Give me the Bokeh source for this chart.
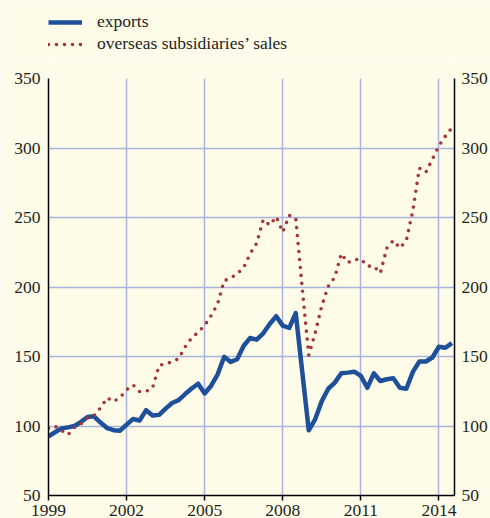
from bokeh.plotting import figure
from bokeh.layouts import column
from bokeh.models import LinearAxis, FixedTicker, Legend, LegendItem, Range1d
from bokeh.embed import file_html
from bokeh.resources import INLINE

# ---- data (quarterly, 1999 Q1 .. 2014 Q3) ----
start_year = 1999
exports = [92.5, 95.5, 98.3, 99.0, 100.0, 103.0, 106.5, 107.0, 102.5, 98.5,
           97.0, 96.6, 101.0, 105.0, 104.0, 111.4, 107.5, 108.0, 112.5, 116.5,
           118.6, 123.0, 127.0, 130.4, 123.4, 129.0, 137.2, 149.8, 146.1, 148.0,
           157.7, 163.3, 162.1, 166.7, 173.4, 179.0, 172.2, 170.5, 181.2, 139.0,
           96.9, 105.0, 117.9, 126.8, 131.2, 137.9, 138.4, 139.1, 136.0, 127.5,
           137.9, 132.4, 133.6, 134.3, 127.5, 126.8, 138.9, 146.4, 146.4, 149.3,
           157.0, 156.3, 159.6]
overseas = [98.3, 99.8, 96.8, 93.7, 99.0, 101.5, 106.0, 107.5, 113.0, 120.3,
            117.6, 120.5, 126.0, 129.5, 124.8, 124.8, 127.5, 143.5, 145.0, 146.0,
            148.5, 157.0, 163.3, 167.4, 172.3, 179.5, 188.0, 204.5, 206.5, 209.5,
            214.0, 224.0, 231.5, 248.5, 244.5, 250.5, 239.5, 251.5, 249.5, 199.0,
            151.0, 167.0, 186.5, 200.5, 207.0, 224.0, 217.5, 219.5, 220.3, 215.0,
            215.0, 210.0, 228.0, 233.5, 228.0, 233.5, 255.0, 285.5, 282.5, 292.0,
            301.5, 308.5, 314.5]
quarters = [start_year + i / 4 for i in range(len(exports))]

x_ticks = [1999, 2002, 2005, 2008, 2011, 2014]
y_ticks = [50, 100, 150, 200, 250, 300, 350]
series_labels = ["exports", "overseas subsidiaries\u2019 sales"]

BG = "#fefce8"
GRID = "#a9b3de"
TXT = "#231f20"
FONT = "Liberation Serif"
FS = "17.5px"
BLUE = dict(line_color="#1d4f9a", line_width=4.5, line_join="round")
RED = dict(line_color="#a53636", line_width=3.6, line_dash="0 8",
           line_cap="round")

W = 490
LEG_H = 60
MAIN_H = 458

# ---- legend strip (series drawn off-range; only the legend shows) ----
pl = figure(width=W, height=LEG_H, output_backend="svg", toolbar_location=None,
            x_range=Range1d(0, 1), y_range=Range1d(0, 1),
            x_axis_type=None, y_axis_type=None,
            min_border_left=41, min_border_right=0, min_border_top=11,
            min_border_bottom=0)
pl.background_fill_color = BG
pl.border_fill_color = BG
pl.outline_line_color = None
pl.grid.visible = False
l1 = pl.line(quarters, exports, **BLUE)
l2 = pl.line(quarters, overseas, **RED)
legend = Legend(items=[LegendItem(label=series_labels[0], renderers=[l1]),
                       LegendItem(label=series_labels[1], renderers=[l2])],
                location="top_left", orientation="vertical",
                glyph_width=34, glyph_height=20, label_height=20, spacing=1,
                label_standoff=15, padding=3, margin=0,
                border_line_color=None, background_fill_alpha=0,
                label_text_font=FONT, label_text_font_size=FS,
                label_text_color=TXT)
pl.add_layout(legend, "center")

# ---- main chart ----
p = figure(width=W, height=MAIN_H, output_backend="svg", toolbar_location=None,
           x_range=Range1d(1999, 2014.6), y_range=Range1d(50, 350),
           min_border_left=48, min_border_right=8, min_border_top=78 - LEG_H,
           min_border_bottom=8)
p.background_fill_color = BG
p.border_fill_color = BG
p.outline_line_color = None

p.line(quarters, exports, **BLUE)
p.line(quarters, overseas, **RED)

p.xgrid.ticker = FixedTicker(ticks=x_ticks)
p.ygrid.ticker = FixedTicker(ticks=y_ticks)
for g in (p.xgrid, p.ygrid):
    g.grid_line_color = GRID
    g.grid_line_width = 1.5

right = LinearAxis()
p.add_layout(right, "right")
for ax in (p.yaxis[0], right):
    ax.ticker = FixedTicker(ticks=y_ticks)
    ax.major_tick_out = 0
    ax.major_tick_in = 0
    ax.minor_tick_out = 0
    ax.minor_tick_in = 0
    ax.major_label_standoff = 8
    ax.axis_line_color = "black"
    ax.axis_line_width = 1.5
    ax.major_label_text_font = FONT
    ax.major_label_text_font_size = FS
    ax.major_label_text_color = TXT
right.major_label_standoff = 7

xa = p.xaxis[0]
xa.ticker = FixedTicker(ticks=x_ticks)
xa.major_tick_out = 5
xa.major_tick_in = 0
xa.minor_tick_out = 0
xa.minor_tick_in = 0
xa.major_tick_line_color = "black"
xa.major_tick_line_width = 1.5
xa.major_label_standoff = 4
xa.axis_line_color = "black"
xa.axis_line_width = 1.5
xa.major_label_text_font = FONT
xa.major_label_text_font_size = FS
xa.major_label_text_color = TXT

layout = column(pl, p, spacing=0)

html = file_html(layout, INLINE)
html = html.replace("<body>", '<body style="background-color:%s;">' % BG, 1)
open("out.html", "w").write(html)
